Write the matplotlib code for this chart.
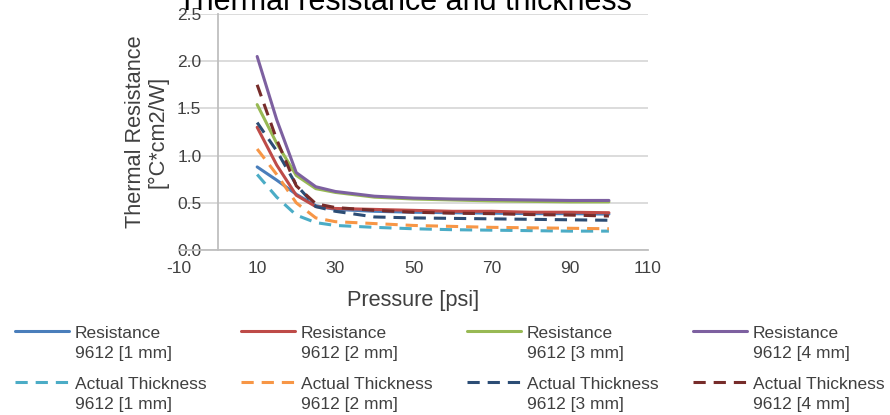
import numpy as np
import matplotlib
matplotlib.use("Agg")
import matplotlib.pyplot as plt
from matplotlib.legend_handler import HandlerLine2D

plt.rcParams['font.family'] = ['Liberation Sans', 'DejaVu Sans']

pressure = [10, 15, 20, 25, 30, 40, 50, 60, 70, 80, 90, 100]

res_1mm = [0.88, 0.74, 0.59, 0.47, 0.43, 0.41, 0.40, 0.395, 0.39, 0.385, 0.385, 0.38]
res_2mm = [1.30, 0.90, 0.58, 0.46, 0.44, 0.43, 0.42, 0.41, 0.41, 0.40, 0.40, 0.395]
res_3mm = [1.54, 1.13, 0.79, 0.65, 0.61, 0.56, 0.54, 0.53, 0.52, 0.515, 0.51, 0.51]
res_4mm = [2.05, 1.38, 0.82, 0.67, 0.62, 0.57, 0.55, 0.54, 0.535, 0.53, 0.525, 0.525]

thk_1mm = [0.80, 0.56, 0.37, 0.29, 0.26, 0.24, 0.225, 0.215, 0.21, 0.205, 0.20, 0.20]
thk_2mm = [1.07, 0.80, 0.50, 0.34, 0.30, 0.28, 0.26, 0.25, 0.24, 0.235, 0.23, 0.225]
thk_3mm = [1.35, 1.05, 0.69, 0.46, 0.41, 0.35, 0.34, 0.335, 0.33, 0.325, 0.32, 0.315]
thk_4mm = [1.75, 1.17, 0.68, 0.49, 0.45, 0.42, 0.40, 0.39, 0.385, 0.375, 0.37, 0.36]

labels_res = ["Resistance\n9612 [1 mm]", "Resistance\n9612 [2 mm]",
              "Resistance\n9612 [3 mm]", "Resistance\n9612 [4 mm]"]
labels_thk = ["Actual Thickness\n9612 [1 mm]", "Actual Thickness\n9612 [2 mm]",
              "Actual Thickness\n9612 [3 mm]", "Actual Thickness\n9612 [4 mm]"]

res_colors = ['#4A7EBB', '#BE4B48', '#98B954', '#7D60A0']
thk_colors = ['#4BACC6', '#F79646', '#2C4D75', '#772C2A']

x_ticks = [-10, 10, 30, 50, 70, 90, 110]
y_ticks = [0.0, 0.5, 1.0, 1.5, 2.0, 2.5]

W, H = 890, 415
fig = plt.figure(figsize=(W / 100, H / 100), dpi=100)
ax = fig.add_axes([179 / W, 1 - 250 / H, (648 - 179) / W, (250 - 14) / H])

txt = '#404040'
lw = 2.2
handles = []
for rv, lr, cr in zip([res_1mm, res_2mm, res_3mm, res_4mm], labels_res, res_colors):
    h1, = ax.plot(pressure, rv, color=cr, lw=lw, label=lr,
                  solid_capstyle='round', solid_joinstyle='round')
    handles.append(h1)
for tv, lt, ct in zip([thk_1mm, thk_2mm, thk_3mm, thk_4mm], labels_thk, thk_colors):
    h2, = ax.plot(pressure, tv, color=ct, lw=lw, label=lt, dashes=(4, 2.6))
    handles.append(h2)

ax.set_xlim(-10, 110)
ax.set_ylim(0, 2.5)
ax.set_xticks(x_ticks)
ax.set_yticks(y_ticks)
ax.set_xticklabels([str(v) for v in x_ticks])
ax.set_yticklabels([f"{v:.1f}" for v in y_ticks])
ax.grid(axis='y', color='#D9D9D9', lw=1.3)
ax.set_axisbelow(True)
for s in ['top', 'right']:
    ax.spines[s].set_visible(False)
ax.spines['left'].set_position(('data', 0))
ax.spines['left'].set_color('#BFBFBF')
ax.spines['left'].set_linewidth(1.3)
ax.spines['bottom'].set_color('#BFBFBF')
ax.spines['bottom'].set_linewidth(1.3)
ax.tick_params(axis='both', length=0, labelsize=12.5, labelcolor=txt)
ax.tick_params(axis='y', pad=12)
ax.tick_params(axis='x', pad=8)
for t in ax.get_yticklabels():
    t.set_zorder(5)

fig.text(413 / W, 1 - 300 / H, "Pressure [psi]", ha='center', va='center',
         fontsize=15.7, color=txt)
fig.text(147 / W, 1 - 132 / H, "Thermal Resistance\n[°C*cm2/W]", ha='center', va='center',
         rotation=90, fontsize=15.7, color=txt, multialignment='center', linespacing=1.1)
fig.text(405 / W, 1 - 10 / H, "Thermal resistance and thickness", ha='center',
         va='baseline', fontsize=22, color='#000000')


class HandlerTop(HandlerLine2D):
    def create_artists(self, legend, orig_handle, xdescent, ydescent, width, height,
                       fontsize, trans):
        arts = super().create_artists(legend, orig_handle, xdescent, ydescent, width,
                                      height, fontsize, trans)
        for a in arts:
            a.set_ydata(np.asarray(a.get_ydata()) + 0.72 * fontsize)
        return arts


order = [handles[0], handles[4], handles[1], handles[5],
         handles[2], handles[6], handles[3], handles[7]]
leg = fig.legend(handles=order, labels=[h.get_label() for h in order], ncol=4,
                 loc='upper left', bbox_to_anchor=(15 / W, 1 - 326 / H),
                 frameon=False, fontsize=12.5, handlelength=3.1, handletextpad=0.35,
                 columnspacing=1.98, labelspacing=0.97, borderpad=0, borderaxespad=0,
                 handler_map={matplotlib.lines.Line2D: HandlerTop()})
for t in leg.get_texts():
    t.set_color(txt)
    t.set_linespacing(1.38)

fig.savefig("out.png", dpi=100)
